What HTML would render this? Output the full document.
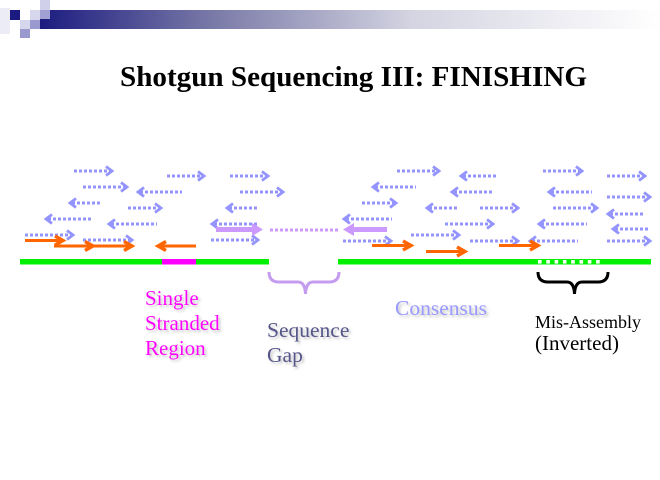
<!DOCTYPE html>
<html>
<head>
<meta charset="utf-8">
<style>
html,body{margin:0;padding:0;background:#fff;}
svg{display:block;}
</style>
</head>
<body>
<svg width="660" height="480" viewBox="0 0 660 480" xmlns="http://www.w3.org/2000/svg">
  <defs>
    <linearGradient id="bar" x1="0" x2="1" y1="0" y2="0">
      <stop offset="0" stop-color="#1c1c80"/>
      <stop offset="0.28" stop-color="#7a7aa8"/>
      <stop offset="0.6" stop-color="#d4d4e2"/>
      <stop offset="1" stop-color="#ffffff"/>
    </linearGradient>
    <filter id="sh" x="-10%" y="-20%" width="130%" height="150%">
      <feDropShadow dx="2" dy="2" stdDeviation="1.2" flood-color="#888" flood-opacity="0.5"/>
    </filter>
  </defs>

  <!-- header decoration -->
  <rect x="40" y="10" width="620" height="19" fill="url(#bar)"/>
  <rect x="0" y="8" width="10" height="26" fill="#ececf6"/>
  <rect x="10" y="10" width="10" height="10" fill="#1a1a80"/>
  <rect x="20" y="20" width="10" height="10" fill="#d6d6ec"/>
  <rect x="30" y="10" width="10" height="10" fill="#d6d6ec"/>
  <rect x="30" y="20" width="10" height="9" fill="#9a9ad0"/>
  <rect x="40" y="0" width="10" height="10" fill="#d0d0ea"/>
  <rect x="40" y="10" width="10" height="9" fill="#a0a0d4"/>
  <rect x="20" y="29" width="10" height="9" fill="#9a9ad0"/>

  <!-- title -->
  <text x="120" y="86" font-family="'Liberation Serif', serif" font-weight="bold" font-size="29" textLength="467" lengthAdjust="spacingAndGlyphs" fill="#000">Shotgun Sequencing III: FINISHING</text>

  <!-- blue dotted reads -->
  <g stroke="#9494ff" fill="none">
    <g stroke-width="3" stroke-dasharray="3 2">
      <line x1="74" y1="171" x2="110" y2="171"/>
      <line x1="167" y1="176" x2="202" y2="176"/>
      <line x1="230" y1="176" x2="266" y2="176"/>
      <line x1="83" y1="187" x2="125" y2="187"/>
      <line x1="240" y1="192" x2="281" y2="192"/>
      <line x1="128" y1="208" x2="159" y2="208"/>
      <line x1="25" y1="235" x2="71" y2="235"/>
      <line x1="83" y1="240" x2="130" y2="240"/>
      <line x1="211" y1="240" x2="256" y2="240"/>
      <line x1="397" y1="171" x2="437" y2="171"/>
      <line x1="543" y1="171" x2="580" y2="171"/>
      <line x1="607" y1="176" x2="643" y2="176"/>
      <line x1="607" y1="197" x2="648" y2="197"/>
      <line x1="362" y1="203" x2="394" y2="203"/>
      <line x1="480" y1="208" x2="516" y2="208"/>
      <line x1="553" y1="208" x2="595" y2="208"/>
      <line x1="445" y1="224" x2="491" y2="224"/>
      <line x1="411" y1="235" x2="457" y2="235"/>
      <line x1="343" y1="241" x2="389" y2="241"/>
      <line x1="470" y1="241" x2="516" y2="241"/>
      <line x1="607" y1="241" x2="648" y2="241"/>
      <!-- left -->
      <line x1="140" y1="192" x2="182" y2="192"/>
      <line x1="72" y1="203" x2="102" y2="203"/>
      <line x1="229" y1="208" x2="258" y2="208"/>
      <line x1="48" y1="219" x2="93" y2="219"/>
      <line x1="111" y1="224" x2="157" y2="224"/>
      <line x1="214" y1="224" x2="258" y2="224"/>
      <line x1="463" y1="176" x2="498" y2="176"/>
      <line x1="375" y1="187" x2="416" y2="187"/>
      <line x1="454" y1="192" x2="494" y2="192"/>
      <line x1="551" y1="192" x2="592" y2="192"/>
      <line x1="429" y1="208" x2="459" y2="208"/>
      <line x1="610" y1="214" x2="645" y2="214"/>
      <line x1="346" y1="219" x2="392" y2="219"/>
      <line x1="541" y1="224" x2="587" y2="224"/>
      <line x1="615" y1="229" x2="649" y2="229"/>
      <line x1="532" y1="241" x2="578" y2="241"/>
    </g>
    <g stroke-width="2.8" stroke-linejoin="miter">
      <!-- right heads -->
      <polyline points="106,166.5 112,171 106,175.5"/>
      <polyline points="198,171.5 204,176 198,180.5"/>
      <polyline points="262,171.5 268,176 262,180.5"/>
      <polyline points="121,182.5 127,187 121,191.5"/>
      <polyline points="277,187.5 283,192 277,196.5"/>
      <polyline points="155,203.5 161,208 155,212.5"/>
      <polyline points="67,230.5 73,235 67,239.5"/>
      <polyline points="126,235.5 132,240 126,244.5"/>
      <polyline points="252,235.5 258,240 252,244.5"/>
      <polyline points="433,166.5 439,171 433,175.5"/>
      <polyline points="576,166.5 582,171 576,175.5"/>
      <polyline points="639,171.5 645,176 639,180.5"/>
      <polyline points="644,192.5 650,197 644,201.5"/>
      <polyline points="390,198.5 396,203 390,207.5"/>
      <polyline points="512,203.5 518,208 512,212.5"/>
      <polyline points="591,203.5 597,208 591,212.5"/>
      <polyline points="487,219.5 493,224 487,228.5"/>
      <polyline points="453,230.5 459,235 453,239.5"/>
      <polyline points="385,236.5 391,241 385,245.5"/>
      <polyline points="512,236.5 518,241 512,245.5"/>
      <polyline points="644,236.5 650,241 644,245.5"/>
      <!-- left heads -->
      <polyline points="144,187.5 138,192 144,196.5"/>
      <polyline points="76,198.5 70,203 76,207.5"/>
      <polyline points="233,203.5 227,208 233,212.5"/>
      <polyline points="52,214.5 46,219 52,223.5"/>
      <polyline points="115,219.5 109,224 115,228.5"/>
      <polyline points="218,219.5 212,224 218,228.5"/>
      <polyline points="467,171.5 461,176 467,180.5"/>
      <polyline points="379,182.5 373,187 379,191.5"/>
      <polyline points="458,187.5 452,192 458,196.5"/>
      <polyline points="555,187.5 549,192 555,196.5"/>
      <polyline points="433,203.5 427,208 433,212.5"/>
      <polyline points="614,209.5 608,214 614,218.5"/>
      <polyline points="350,214.5 344,219 350,223.5"/>
      <polyline points="545,219.5 539,224 545,228.5"/>
      <polyline points="619,224.5 613,229 619,233.5"/>
      <polyline points="536,236.5 530,241 536,245.5"/>
    </g>
  </g>

  <!-- purple gap arrows -->
  <g>
    <line x1="216" y1="229.5" x2="255" y2="229.5" stroke="#cc99ff" stroke-width="5"/>
    <polygon points="252,223 263,229.5 252,236" fill="#cc99ff"/>
    <line x1="270" y1="230" x2="338" y2="230" stroke="#cc99ff" stroke-width="3" stroke-dasharray="3 2"/>
    <line x1="351" y1="229.5" x2="387" y2="229.5" stroke="#cc99ff" stroke-width="5"/>
    <polygon points="354,223 343,229.5 354,236" fill="#cc99ff"/>
  </g>

  <!-- orange arrows -->
  <g stroke="#ff6600" fill="none" stroke-width="3">
    <line x1="25" y1="240.5" x2="62" y2="240.5"/>
    <polyline points="55,236 63,240.5 55,245" stroke-width="3.4"/>
    <line x1="54" y1="246" x2="92" y2="246"/>
    <polyline points="85,241.5 93,246 85,250.5" stroke-width="3.4"/>
    <line x1="94" y1="246" x2="131" y2="246"/>
    <polyline points="124,241.5 132,246 124,250.5" stroke-width="3.4"/>
    <line x1="159" y1="246" x2="196" y2="246"/>
    <polyline points="166,241.5 158,246 166,250.5" stroke-width="3.4"/>
    <line x1="372" y1="245.5" x2="410" y2="245.5"/>
    <polyline points="403,241 411,245.5 403,250" stroke-width="3.4"/>
    <line x1="426" y1="251.5" x2="464" y2="251.5"/>
    <polyline points="457,247 465,251.5 457,256" stroke-width="3.4"/>
    <line x1="499" y1="245.5" x2="537" y2="245.5"/>
    <polyline points="530,241 538,245.5 530,250" stroke-width="3.4"/>
  </g>

  <!-- consensus line -->
  <rect x="20" y="259" width="249" height="5.5" fill="#00f000"/>
  <rect x="162" y="259" width="34" height="5.5" fill="#ff00ff"/>
  <rect x="338" y="259" width="313" height="5.5" fill="#00f000"/>
  <g fill="#ffffff">
    <rect x="538" y="260" width="3.6" height="3.6"/>
    <rect x="546.3" y="260" width="3.6" height="3.6"/>
    <rect x="554.6" y="260" width="3.6" height="3.6"/>
    <rect x="562.9" y="260" width="3.6" height="3.6"/>
    <rect x="571.2" y="260" width="3.6" height="3.6"/>
    <rect x="579.5" y="260" width="3.6" height="3.6"/>
    <rect x="587.8" y="260" width="3.6" height="3.6"/>
    <rect x="596.1" y="260" width="3.6" height="3.6"/>
  </g>

  <!-- braces -->
  <path d="M269,272 Q269,282 279,282 L298,282 Q305,282 305.5,294 Q306,282 313,282 L329,282 Q339,282 339,272" fill="none" stroke="#c49cf0" stroke-width="3"/>
  <path d="M538,272 Q538,282 548,282 L567,282 Q574,282 574.5,294 Q575,282 582,282 L598,282 Q608,282 608,272" fill="none" stroke="#000" stroke-width="3"/>

  <!-- labels -->
  <g font-family="'Liberation Serif', serif" filter="url(#sh)">
    <text x="145" y="305" font-size="21" fill="#ff00ff">Single</text>
    <text x="145" y="330" font-size="21" fill="#ff00ff">Stranded</text>
    <text x="145" y="355" font-size="21" fill="#ff00ff">Region</text>
    <text x="267" y="337" font-size="21.5" fill="#55558a">Sequence</text>
    <text x="267" y="362" font-size="21.5" fill="#55558a">Gap</text>
    <text x="395" y="315" font-size="21.5" fill="#9999ff">Consensus</text>
  </g>
  <g font-family="'Liberation Serif', serif" fill="#000">
    <text x="535" y="328" font-size="18">Mis-Assembly</text>
    <text x="535" y="350" font-size="21">(Inverted)</text>
  </g>
</svg>
</body>
</html>
